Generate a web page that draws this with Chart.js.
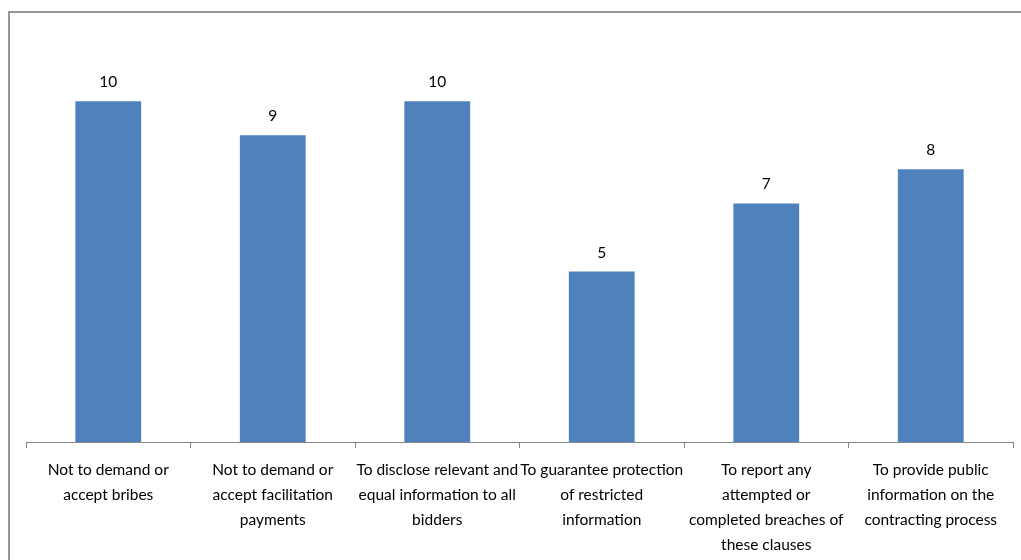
<!DOCTYPE html>
<html>
<head>
<meta charset="utf-8">
<script src="https://cdn.jsdelivr.net/npm/chart.js@4"></script>
<style>
    html, body { margin: 0; padding: 0; background: #fff; overflow: hidden; }
    #wrap { position: relative; width: 1021px; height: 560px; }
    #frame {
        position: absolute; left: 8px; top: 11px; width: 1100px; height: 700px;
        border: 2px solid #969696; box-sizing: border-box;
    }
    canvas { position: absolute; left: 0; top: 0; }
</style>
</head>
<body>
<div id="wrap">
    <div id="frame"></div>
    <canvas id="chart" width="1021" height="560"></canvas>
</div>
<script>
const categories = [
    ['Not to demand or', 'accept bribes'],
    ['Not to demand or', 'accept facilitation', 'payments'],
    ['To disclose relevant and', 'equal information to all', 'bidders'],
    ['To guarantee protection', 'of restricted', 'information'],
    ['To report any', 'attempted or', 'completed breaches of', 'these clauses'],
    ['To provide public', 'information on the', 'contracting process']
];
const counts = [10, 9, 10, 5, 7, 8];

const FONT = 'Lato, "Open Sans", sans-serif';

// write the count above each bar
const valueLabels = {
    id: 'valueLabels',
    afterDatasetsDraw(chart) {
        const ctx = chart.ctx;
        const meta = chart.getDatasetMeta(0);
        ctx.save();
        ctx.font = '15.5px ' + FONT;
        ctx.fillStyle = '#000';
        ctx.textAlign = 'center';
        ctx.textBaseline = 'middle';
        meta.data.forEach((bar, i) => {
            ctx.fillText(chart.data.datasets[0].data[i], bar.x, bar.y - 19);
        });
        ctx.restore();
    }
};

new Chart(document.getElementById('chart'), {
    type: 'bar',
    data: {
        labels: categories,
        datasets: [{
            data: counts,
            backgroundColor: '#4F81BD',
            borderWidth: 0,
            barPercentage: 0.4,
            categoryPercentage: 1
        }]
    },
    options: {
        responsive: false,
        animation: false,
        layout: { padding: { left: 26, right: 8, top: 33, bottom: 0 } },
        plugins: {
            legend: { display: false },
            tooltip: { enabled: false }
        },
        scales: {
            y: {
                display: false,
                min: 0,
                max: 12
            },
            x: {
                offset: true,
                afterFit: (scale) => { scale.height = 118; },
                border: { display: true, color: '#868686', width: 1 },
                grid: {
                    offset: true,
                    drawOnChartArea: false,
                    drawTicks: true,
                    tickLength: 6,
                    color: '#868686'
                },
                ticks: {
                    autoSkip: false,
                    maxRotation: 0,
                    padding: 10,
                    color: '#000',
                    font: { family: FONT, size: 15.5, lineHeight: 1.6 }
                }
            }
        }
    },
    plugins: [valueLabels]
});
</script>
</body>
</html>
